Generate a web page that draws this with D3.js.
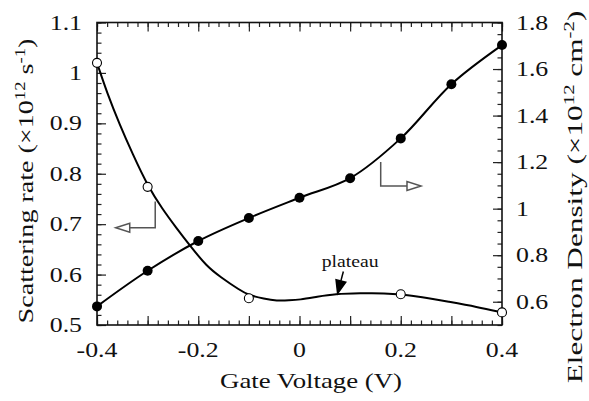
<!DOCTYPE html>
<html>
<head>
<meta charset="utf-8">
<script src="https://cdn.jsdelivr.net/npm/d3@7"></script>
<style>
  body { margin: 0; background: #fff; }
  svg text { font-family: "Liberation Serif", "Times New Roman", serif; fill: #111; }
</style>
</head>
<body>
<svg width="589" height="401"></svg>
<script>
// electron density (filled circles, right axis)
var gateV = [-0.4, -0.3, -0.2, -0.1, 0, 0.1, 0.2, 0.3, 0.4];
var density = [0.58, 0.733, 0.861, 0.960, 1.047, 1.131, 1.302, 1.535, 1.703];

// scattering rate (open circles, left axis)
var rateV = [-0.4, -0.3, -0.1, 0.2, 0.4];
var rate = [1.020, 0.774, 0.553, 0.561, 0.525];

// fitted curve through the scattering rate
var fitV = [-0.4, -0.38, -0.355, -0.33, -0.30, -0.27, -0.245, -0.216, -0.183, -0.157, -0.118, -0.10,
            -0.07, -0.045, -0.02, 0, 0.035, 0.07, 0.12, 0.17, 0.20, 0.24, 0.295, 0.35, 0.40];
var fitRate = [1.020, 0.960, 0.897, 0.840, 0.776, 0.729, 0.695, 0.657, 0.616, 0.596, 0.569, 0.559,
               0.552, 0.548, 0.549, 0.550, 0.556, 0.5615, 0.563, 0.563, 0.561, 0.556, 0.546, 0.536, 0.525];

// tick labels
var xLabels = [-0.4, -0.2, 0, 0.2, 0.4];
var leftLabels = [0.5, 0.6, 0.7, 0.8, 0.9, 1.0, 1.1];
var rightLabels = [0.6, 0.8, 1.0, 1.2, 1.4, 1.6, 1.8];

var svg = d3.select("svg");
var plotL = 97, plotR = 502, plotT = 22.5, plotB = 325;
var sx = 1.23;   // the original type is set wide

var x = d3.scaleLinear().domain([-0.4, 0.4]).range([plotL, plotR]);
var yL = d3.scaleLinear().domain([0.5, 1.1]).range([plotB, plotT]);
var yR = d3.scaleLinear().domain([0.5, 1.8]).range([plotB, plotT]);

var xMinor = d3.range(-20, 21).map(function(i) { return i / 50; });
var xMajor = d3.range(-4, 5).map(function(i) { return i / 10; });
var lMinor = d3.range(25, 56).map(function(i) { return i / 50; });
var lMajor = d3.range(5, 12).map(function(i) { return i / 10; });
var rMinor = d3.range(10, 37).map(function(i) { return i / 20; });
var rMajor = d3.range(3, 10).map(function(i) { return i / 5; });

function tickAxis(axis, vals, size) {
  return axis.tickValues(vals).tickSizeInner(-size).tickSizeOuter(0).tickFormat("");
}

function drawTicks(pos, axisFn, scale, minor, major) {
  [[minor, 4.5], [major, 9]].forEach(function(t) {
    var g = svg.append("g").attr("transform", pos).call(tickAxis(axisFn(scale), t[0], t[1]));
    g.select(".domain").remove();
    g.selectAll("line").attr("stroke", "#222").attr("stroke-width", 1.2);
  });
}
drawTicks("translate(0," + plotB + ")", d3.axisBottom, x, xMinor, xMajor);
drawTicks("translate(0," + plotT + ")", d3.axisTop, x, xMinor, xMajor);
drawTicks("translate(" + plotL + ",0)", d3.axisLeft, yL, lMinor, lMajor);
drawTicks("translate(" + plotR + ",0)", d3.axisRight, yR, rMinor, rMajor);

svg.append("rect")
   .attr("x", plotL).attr("y", plotT)
   .attr("width", plotR - plotL).attr("height", plotB - plotT)
   .attr("fill", "none").attr("stroke", "#111").attr("stroke-width", 1.6);

function label(txt, tx, ty, anchor, size) {
  return svg.append("text")
    .attr("transform", "translate(" + tx + "," + ty + ") scale(" + sx + ",1)")
    .attr("text-anchor", anchor)
    .attr("font-size", size)
    .text(txt);
}

xLabels.forEach(function(v) { label(String(v), x(v), 357, "middle", 21); });
leftLabels.forEach(function(v) { label(String(v), 82, yL(v) + 7, "end", 21); });
rightLabels.forEach(function(v) { label(String(v), 516, yR(v) + 7, "start", 21); });

// axis titles with superscripts, stretched to the width seen in the picture
function title(parts, tx, ty, rot, target) {
  var t = svg.append("text").attr("text-anchor", "middle").attr("font-size", 21);
  parts.forEach(function(p) {
    var s = t.append("tspan").text(p[0]);
    if (p[1]) s.attr("font-size", p[1] < 0 ? 14 : 21).attr("dy", p[1]);
  });
  var w = t.node().getComputedTextLength();
  t.attr("transform", "translate(" + tx + "," + ty + ") rotate(" + rot + ") scale(" + (target / w) + ",1)");
}
title([["Gate Voltage (V)"]], 311, 388, 0, 182);
title([["Scattering rate (\u00d710"], ["12", -8], [" s", 8], ["-1", -8], [")", 8]], 33, 181, -90, 285);
title([["Electron Density (\u00d710"], ["12", -8], [" cm", 8], ["-2", -8], [")", 8]], 582, 197, -90, 373);

// curves
var fitLine = d3.line()
  .x(function(d, i) { return x(fitV[i]); })
  .y(function(d) { return yL(d); })
  .curve(d3.curveBasis);
svg.append("path").attr("d", fitLine(fitRate))
   .attr("fill", "none").attr("stroke", "#000").attr("stroke-width", 2);

var densLine = d3.line()
  .x(function(d, i) { return x(gateV[i]); })
  .y(function(d) { return yR(d); })
  .curve(d3.curveCatmullRom);
svg.append("path").attr("d", densLine(density))
   .attr("fill", "none").attr("stroke", "#000").attr("stroke-width", 2);

// markers
svg.selectAll(".open").data(rate).enter().append("circle")
   .attr("class", "open")
   .attr("cx", function(d, i) { return x(rateV[i]); })
   .attr("cy", function(d) { return yL(d); })
   .attr("r", 4.5)
   .attr("fill", "#fff").attr("stroke", "#000").attr("stroke-width", 1.1);

svg.selectAll(".dot").data(density).enter().append("circle")
   .attr("class", "dot")
   .attr("cx", function(d, i) { return x(gateV[i]); })
   .attr("cy", function(d) { return yR(d); })
   .attr("r", 5)
   .attr("fill", "#000");

// arrow annotations (which axis each curve belongs to)
function arrow(pts, len, half, filled, color) {
  var n = pts.length, a = pts[n - 2], b = pts[n - 1];
  var dx = b[0] - a[0], dy = b[1] - a[1], d = Math.sqrt(dx * dx + dy * dy);
  var ux = dx / d, uy = dy / d;
  var base = [b[0] - ux * len, b[1] - uy * len];
  var shaft = pts.slice(0, n - 1).concat([base]);
  svg.append("path").attr("d", d3.line()(shaft))
     .attr("fill", "none").attr("stroke", color).attr("stroke-width", 1.5);
  var head = [b, [base[0] - uy * half, base[1] + ux * half], [base[0] + uy * half, base[1] - ux * half]];
  svg.append("path").attr("d", d3.line()(head) + "Z")
     .attr("fill", filled ? color : "#fff").attr("stroke", color).attr("stroke-width", 1.5);
}
arrow([[x(-0.285), yL(0.745)], [x(-0.285), yL(0.693)], [x(-0.363), yL(0.693)]], 14, 4.5, false, "#555");
arrow([[x(0.1604), yR(1.2)], [x(0.1604), yR(1.097)], [x(0.24), yR(1.097)]], 14, 4.5, false, "#555");
arrow([[x(0.0866), yL(0.606)], [x(0.0753), yL(0.5625)]], 13, 5, true, "#000");

label("plateau", x(0.1), yL(0.616), "middle", 16);
</script>
</body>
</html>
